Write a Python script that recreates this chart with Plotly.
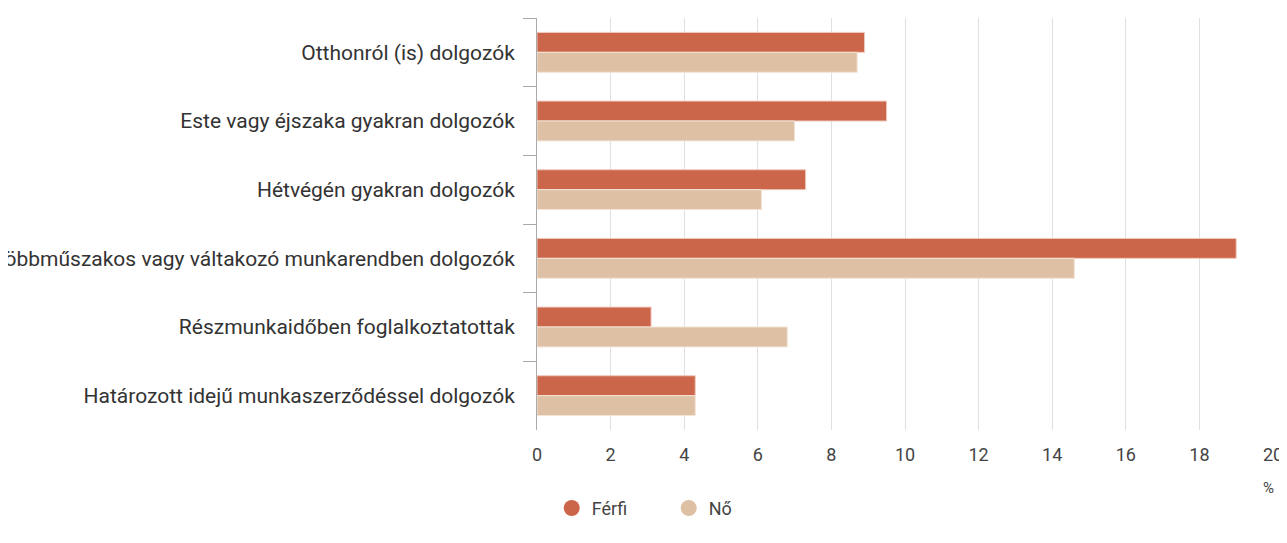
import plotly.graph_objects as go

# Adatok
kategoriak = [
    "Otthonról (is) dolgozók",
    "Este vagy éjszaka gyakran dolgozók",
    "Hétvégén gyakran dolgozók",
    "Többműszakos vagy váltakozó munkarendben dolgozók",
    "Részmunkaidőben foglalkoztatottak",
    "Határozott idejű munkaszerződéssel dolgozók",
]
ferfi = [8.9, 9.5, 7.3, 19.0, 3.1, 4.3]
no = [8.7, 7.0, 6.1, 14.6, 6.8, 4.3]
x_ticks = [0, 2, 4, 6, 8, 10, 12, 14, 16, 18, 20]

FERFI_SZIN = "#CC664A"
NO_SZIN = "#DEC0A5"
FONT = "Roboto, sans-serif"

fig = go.Figure()

fig.add_trace(go.Bar(
    y=kategoriak, x=ferfi, orientation="h", name="Férfi",
    marker=dict(color=FERFI_SZIN, line=dict(color="#F0C8BC", width=1)),
    legendgroup="f", showlegend=False,
))
fig.add_trace(go.Bar(
    y=kategoriak, x=no, orientation="h", name="Nő",
    marker=dict(color=NO_SZIN, line=dict(color="#F3E4D6", width=1)),
    legendgroup="n", showlegend=False,
))

# jelmagyarázat körökkel
fig.add_trace(go.Scatter(
    x=[None], y=[None], mode="markers", name="Férfi", legendgroup="f",
    marker=dict(symbol="circle", size=20, color=FERFI_SZIN),
))
fig.add_trace(go.Scatter(
    x=[None], y=[None], mode="markers", name="Nő", legendgroup="n",
    marker=dict(symbol="circle", size=20, color=NO_SZIN),
))

# az oldal 8px-es body margója miatt minden 8px-el eltolva
fig.update_layout(
    width=1287, height=543,
    margin=dict(l=529, r=22, t=10, b=121, autoexpand=False),
    paper_bgcolor="white", plot_bgcolor="white",
    barmode="group", bargap=0.42, bargroupgap=0,
    font=dict(family=FONT, size=18, color="#333333"),
    legend=dict(
        orientation="h", x=0.02, xanchor="left",
        y=-0.19, yanchor="middle",
        font=dict(size=18, color="#444444"),
        entrywidth=72, entrywidthmode="pixels",
        traceorder="normal",
    ),
    annotations=[dict(
        x=20, xref="x", y=-0.14, yref="paper", text="%", showarrow=False,
        xanchor="center", yanchor="middle", xshift=-5,
        font=dict(family=FONT, size=15, color="#444444"),
    )],
)

fig.update_xaxes(
    range=[0, 20], tickvals=x_ticks, ticktext=[str(v) for v in x_ticks],
    showgrid=True, gridcolor="#E0E0E0", gridwidth=1,
    zeroline=False, showline=False, ticks="", automargin=False,
    tickangle=0, ticklabelstandoff=12,
    tickfont=dict(family=FONT, size=18, color="#444444"),
)
fig.update_yaxes(
    autorange="reversed", type="category", automargin=False,
    showline=True, linecolor="#AAAAAA", linewidth=1,
    ticks="outside", tickson="boundaries", ticklen=13, tickcolor="#AAAAAA",
    showgrid=False, ticklabelstandoff=17,
    tickfont=dict(family=FONT, size=21, color="#333333"),
)

fig.write_html("out.html")
